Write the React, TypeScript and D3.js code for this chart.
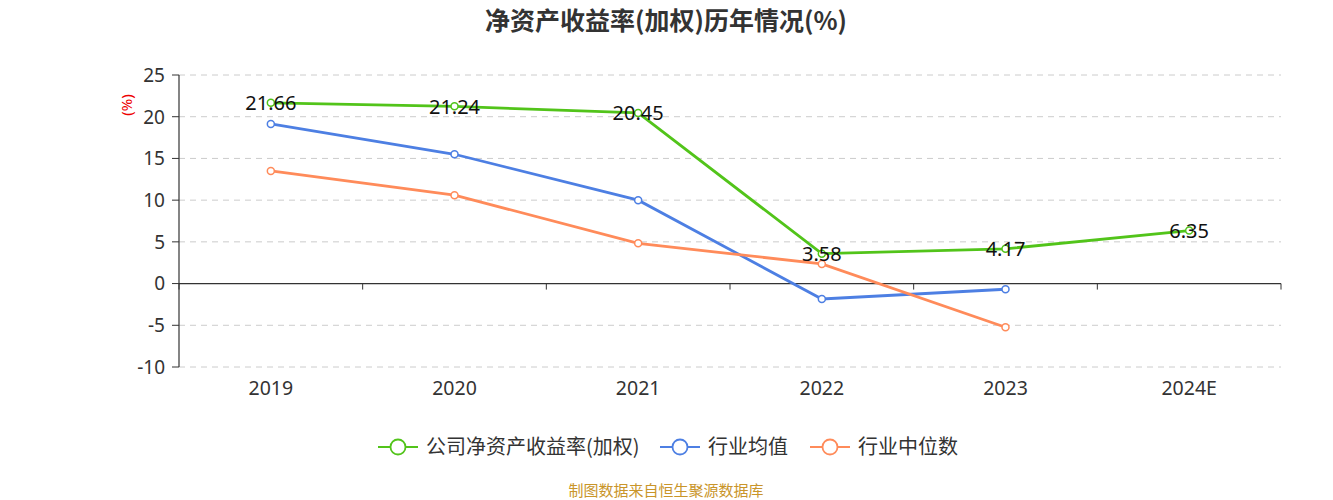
import React from "react";
import * as d3 from "d3";

const categories = ["2019", "2020", "2021", "2022", "2023", "2024E"];
const companyRoe = [21.66, 21.24, 20.45, 3.58, 4.17, 6.35];
const industryAvg = [19.13, 15.5, 10.0, -1.85, -0.68, null];
const industryMedian = [13.5, 10.6, 4.83, 2.35, -5.24, null];
const yTicks = [25, 20, 15, 10, 5, 0, -5, -10];
const seriesNames = ["公司净资产收益率(加权)", "行业均值", "行业中位数"];
const seriesColors = ["#52c41a", "#4d7fe3", "#ff8b5a"];

const W = 1333;
const H = 500;
const left = 179;
const right = 1281;
const top = 75;
const bottom = 367;
const cjk = "'Noto Sans CJK SC', 'Noto Sans', sans-serif";
const num = "'Noto Sans', 'Noto Sans CJK SC', sans-serif";

export default function App() {
  const x = d3.scaleBand<string>().domain(categories).range([left, right]);
  const y = d3.scaleLinear().domain([-10, 25]).range([bottom, top]);
  const cx = (c: string) => (x(c) as number) + x.bandwidth() / 2;
  const seriesData = [companyRoe, industryAvg, industryMedian];
  const line = d3
    .line<[string, number | null]>()
    .defined((d) => d[1] !== null)
    .x((d) => cx(d[0]))
    .y((d) => y(d[1] as number));
  const boundaries = categories.map((c) => x(c) as number).concat([right]);
  const legendItems = [
    { x0: 378, tx: 426 },
    { x0: 660, tx: 708 },
    { x0: 810, tx: 858 },
  ];
  return (
    <svg
      width={W}
      height={H}
      style={{ position: "absolute", left: 0, top: 0, background: "#fff" }}
      fontFamily={cjk}
    >
      <text x={666} y={21} dy="0.35em" textAnchor="middle" fontSize={25} fontWeight="bold" fill="#333">
        净资产收益率(加权)历年情况(%)
      </text>
      {yTicks.map((t) =>
        t !== 0 ? (
          <line key={"g" + t} x1={left} x2={right} y1={y(t)} y2={y(t)} stroke="#ccc" strokeDasharray="6,5" strokeWidth={1} />
        ) : null
      )}
      {yTicks.map((t) => (
        <g key={"yt" + t}>
          <line x1={left - 7} x2={left} y1={y(t)} y2={y(t)} stroke="#333" />
          <text x={left - 14} y={y(t)} dy="0.36em" textAnchor="end" fontSize={19} fill="#333" fontFamily={num}>
            {t}
          </text>
        </g>
      ))}
      <line x1={left} x2={left} y1={top} y2={bottom} stroke="#333" strokeWidth={1.2} />
      <line x1={left} x2={right} y1={y(0)} y2={y(0)} stroke="#333" strokeWidth={1.2} />
      {boundaries.map((b, i) => (
        <line key={"xt" + i} x1={b} x2={b} y1={y(0)} y2={y(0) + 6} stroke="#333" />
      ))}
      {categories.map((c) => (
        <text key={"xl" + c} x={cx(c)} y={395} textAnchor="middle" fontSize={19.5} fill="#333" fontFamily={num}>
          {c}
        </text>
      ))}
      <text
        transform={`translate(127,105) rotate(-90)`}
        textAnchor="middle"
        fontSize={15}
        fill="#e00"
        dy="0.35em"
        fontFamily={num}
      >
        (%)
      </text>
      {seriesData.map((s, si) => {
        const pts = categories.map((c, i) => [c, s[i]] as [string, number | null]);
        return (
          <g key={"s" + si}>
            <path d={line(pts) || ""} fill="none" stroke={seriesColors[si]} strokeWidth={2.8} />
            {pts
              .filter((p) => p[1] !== null)
              .map((p) => (
                <circle key={p[0]} cx={cx(p[0])} cy={y(p[1] as number)} r={3.5} fill="#fff" stroke={seriesColors[si]} strokeWidth={1.5} />
              ))}
          </g>
        );
      })}
      {companyRoe.map((v, i) => (
        <text key={"lb" + i} x={cx(categories[i])} y={y(v)} dy="0.36em" textAnchor="middle" fontSize={20} fill="#111" fontFamily={num}>
          {v.toFixed(2)}
        </text>
      ))}
      {legendItems.map((it, i) => (
        <g key={"lg" + i}>
          <line x1={it.x0} x2={it.x0 + 40} y1={447} y2={447} stroke={seriesColors[i]} strokeWidth={2} />
          <circle cx={it.x0 + 20} cy={447} r={7.5} fill="#fff" stroke={seriesColors[i]} strokeWidth={1.8} />
          <text x={it.tx} y={447} dy="0.35em" fontSize={20} fill="#333">
            {seriesNames[i]}
          </text>
        </g>
      ))}
      <text x={666} y={491} dy="0.35em" textAnchor="middle" fontSize={15} fill="#c9952a">
        制图数据来自恒生聚源数据库
      </text>
    </svg>
  );
}
